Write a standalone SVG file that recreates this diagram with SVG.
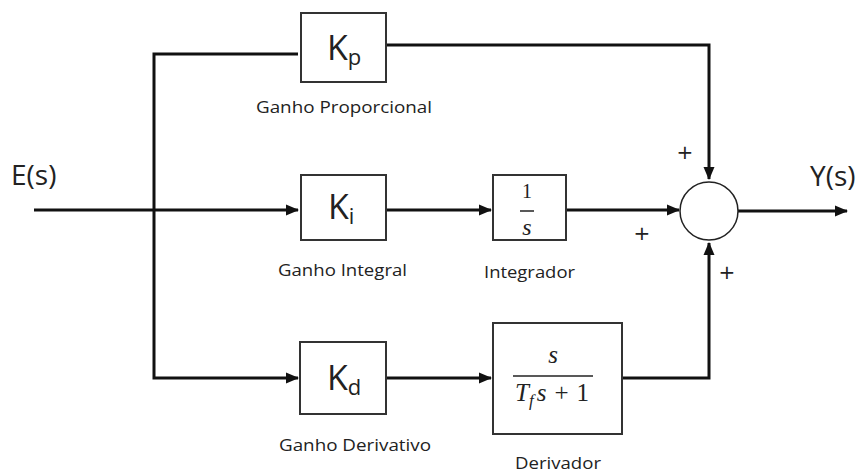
<svg xmlns="http://www.w3.org/2000/svg" width="859" height="474" viewBox="0 0 859 474">
<style>
.box{fill:#fff;stroke:#333;stroke-width:2}
.ln{fill:none;stroke:#111;stroke-width:3}
.lbl{font-family:"Open Sans","Noto Sans",sans-serif;font-size:17px;fill:#222}
.io{font-family:"Open Sans","Noto Sans",sans-serif;font-size:28px;fill:#222}
.gain{font-family:"Open Sans","Noto Sans",sans-serif;font-size:34px;fill:#222}
.sub{font-size:22px}
.math{font-family:"Liberation Serif","DejaVu Serif",serif;fill:#222}
.pl{font-family:"DejaVu Sans",sans-serif;font-size:20px;fill:#222;text-anchor:middle}
</style>
<defs>
<marker id="ar" markerUnits="userSpaceOnUse" markerWidth="13" markerHeight="12" refX="12" refY="6" orient="auto">
<path d="M0,0.5 L13,6 L0,11.5 z" fill="#111"/>
</marker>
</defs>
<rect width="859" height="474" fill="#fff"/>
<g id="connectors">
<path class="ln" d="M34,210 L298,210" marker-end="url(#ar)"/>
<path class="ln" d="M298,54 L154,54 L154,378 L298,378" marker-end="url(#ar)"/>
<path class="ln" d="M386,45 L709,45 L709,179" marker-end="url(#ar)"/>
<path class="ln" d="M386,210 L491,210" marker-end="url(#ar)"/>
<path class="ln" d="M566,210 L679,210" marker-end="url(#ar)"/>
<path class="ln" d="M386,378 L491,378" marker-end="url(#ar)"/>
<path class="ln" d="M622,378 L709,378 L709,243" marker-end="url(#ar)"/>
<path class="ln" d="M738,211 L847,211" marker-end="url(#ar)"/>
</g>
<g id="input"><text class="io" x="11" y="185">E(s)</text></g>
<g id="output"><text class="io" x="810" y="186">Y(s)</text></g>
<g id="kp">
<rect class="box" x="301" y="13" width="85" height="69"/>
<text class="gain" x="327" y="60">K<tspan class="sub" dy="5">p</tspan></text>
<text class="lbl" x="256" y="113" textLength="176" lengthAdjust="spacingAndGlyphs">Ganho Proporcional</text>
</g>
<g id="ki">
<rect class="box" x="301" y="175" width="85" height="65"/>
<text class="gain" x="328" y="219">K<tspan class="sub" dy="5">i</tspan></text>
<text class="lbl" x="278" y="276" textLength="129" lengthAdjust="spacingAndGlyphs">Ganho Integral</text>
</g>
<g id="kd">
<rect class="box" x="300" y="342" width="86" height="72"/>
<text class="gain" x="327" y="390">K<tspan class="sub" dy="5">d</tspan></text>
<text class="lbl" x="279" y="451" textLength="152" lengthAdjust="spacingAndGlyphs">Ganho Derivativo</text>
</g>
<g id="integrador">
<rect class="box" x="493" y="175" width="73" height="65"/>
<text class="math" x="527" y="198" font-size="20" text-anchor="middle">1</text>
<line x1="520" y1="211" x2="534" y2="211" stroke="#222" stroke-width="1.5"/>
<text class="math" x="527" y="235" font-size="24" font-style="italic" text-anchor="middle">s</text>
<text class="lbl" x="484" y="278" textLength="91" lengthAdjust="spacingAndGlyphs">Integrador</text>
</g>
<g id="derivador">
<rect class="box" x="493" y="323" width="129" height="111"/>
<text class="math" x="553" y="363" font-size="25" font-style="italic" text-anchor="middle">s</text>
<line x1="513" y1="376" x2="593" y2="376" stroke="#222" stroke-width="1.5"/>
<text class="math" x="515" y="401" font-size="25"><tspan font-style="italic">T</tspan><tspan font-style="italic" font-size="17" dy="5">f</tspan><tspan font-style="italic" dx="3" dy="-5">s</tspan><tspan dx="8">+</tspan><tspan dx="8">1</tspan></text>
<text class="lbl" x="515" y="469" textLength="86" lengthAdjust="spacingAndGlyphs">Derivador</text>
</g>
<g id="soma">
<circle cx="709" cy="211" r="29" fill="#fff" stroke="#222" stroke-width="1.5"/>
<text class="pl" x="685" y="159">+</text>
<text class="pl" x="642" y="240">+</text>
<text class="pl" x="727" y="279">+</text>
</g>
</svg>
